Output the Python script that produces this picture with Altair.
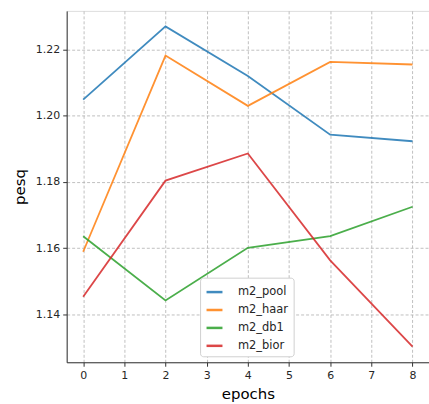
import altair as alt
import pandas as pd

epochs = [0, 2, 4, 6, 8]
series_names = ["m2_pool", "m2_haar", "m2_db1", "m2_bior"]
m2_pool = [1.2049, 1.2270, 1.2120, 1.1943, 1.1923]
m2_haar = [1.1589, 1.2182, 1.2030, 1.2163, 1.2155]
m2_db1 = [1.1636, 1.1442, 1.1601, 1.1636, 1.1725]
m2_bior = [1.1453, 1.1804, 1.1886, 1.1563, 1.1302]
colors = ["#1f77b4", "#ff7f0e", "#2ca02c", "#d62728"]

rows = []
for name, vals in zip(series_names, [m2_pool, m2_haar, m2_db1, m2_bior]):
    for e, v in zip(epochs, vals):
        rows.append({"epochs": e, "pesq": v, "series": name})
df = pd.DataFrame(rows)

font = "DejaVu Sans"

chart = alt.Chart(df).mark_line(strokeWidth=1.8, opacity=0.85).encode(
    x=alt.X("epochs:Q",
            scale=alt.Scale(domain=[-0.4, 8.4], nice=False, zero=False),
            axis=alt.Axis(values=list(range(9)), format="d", title="epochs",
                          titleFontSize=15, titleFont=font, titleFontWeight="normal",
                          titleColor="#000", titlePadding=6,
                          labelFont=font, labelFontSize=11, labelColor="#262626",
                          labelPadding=3, tickSize=4, tickColor="#333",
                          domainColor="#333", grid=True, gridDash=[3, 2],
                          gridColor="#b0b0b0", gridWidth=0.8)),
    y=alt.Y("pesq:Q",
            scale=alt.Scale(domain=[1.1255, 1.2317], nice=False, zero=False),
            axis=alt.Axis(values=[1.14, 1.16, 1.18, 1.20, 1.22], format=".2f",
                          title="pesq", titleFontSize=15, titleFont=font,
                          titleFontWeight="normal", titleColor="#000", titlePadding=8,
                          labelFont=font, labelFontSize=11, labelColor="#262626",
                          labelPadding=3, tickSize=4, tickColor="#333",
                          domainColor="#333", grid=True, gridDash=[3, 2],
                          gridColor="#b0b0b0", gridWidth=0.8)),
    color=alt.Color("series:N",
                    scale=alt.Scale(domain=series_names, range=colors),
                    legend=alt.Legend(title=None, orient="none", legendX=134, legendY=268,
                                      symbolType="stroke", symbolStrokeWidth=2.5,
                                      symbolSize=256, symbolOpacity=0.85,
                                      labelFont=font, labelFontSize=11.5,
                                      labelColor="#262626", rowPadding=3,
                                      fillColor="white", strokeColor="#d0d0d0",
                                      cornerRadius=3, padding=5, labelOffset=14)),
).properties(
    width=364, height=353,
    padding={"left": 67, "top": 10, "right": 0, "bottom": 41},
    autosize=alt.AutoSizeParams(type="none"),
).configure_view(stroke="#666", strokeWidth=1).configure(background="white")

chart.save("out.html", embed_options={"renderer": "svg", "actions": False})
